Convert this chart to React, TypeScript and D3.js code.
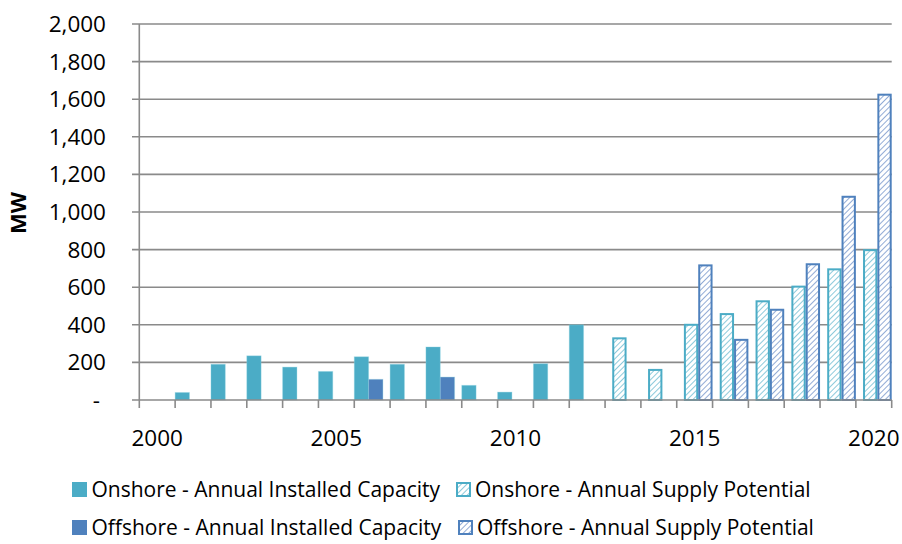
import React from "react";
import * as d3 from "d3";

const years = d3.range(2000, 2021);
const onshoreInstalled: (number | null)[] = [null, 40, 190, 235, 175, 152, 230, 190, 282, 78, 42, 193, 400, null, null, null, null, null, null, null, null];
const onshorePotential: (number | null)[] = [null, null, null, null, null, null, null, null, null, null, null, null, null, 328, 160, 400, 457, 525, 603, 695, 797];
const offshoreInstalled: (number | null)[] = [null, null, null, null, null, null, 110, null, 122, null, null, null, null, null, null, null, null, null, null, null, null];
const offshorePotential: (number | null)[] = [null, null, null, null, null, null, null, null, null, null, null, null, null, null, null, 716, 320, 480, 722, 1081, 1624];
const yTicks = [0, 200, 400, 600, 800, 1000, 1200, 1400, 1600, 1800, 2000];
const xLabelYears = [2000, 2005, 2010, 2015, 2020];

const ON = "#4BACC6";
const OFF = "#4F81BD";

const W = 902, H = 544;
const left = 139.3, right = 891.7, top = 24, bottom = 400;
const FONT = "'Open Sans', 'Noto Sans', sans-serif";

export default function App() {
  const x = d3.scaleBand<number>().domain(years).range([left, right]).paddingInner(0).paddingOuter(0);
  const y = d3.scaleLinear().domain([0, 2000]).range([bottom, top]);
  const bw = x.bandwidth();
  const w = bw / 2.5;
  const step = w / 2;
  const fmt = d3.format(",");

  const series = [
    { data: onshoreInstalled, idx: 0, kind: "solid", color: ON },
    { data: onshorePotential, idx: 1, kind: "hatch", color: ON, pat: "hOn" },
    { data: offshoreInstalled, idx: 2, kind: "solid", color: OFF },
    { data: offshorePotential, idx: 3, kind: "hatch", color: OFF, pat: "hOff" },
  ];

  const boundaries = d3.range(0, years.length + 1).map((i) => left + i * bw);

  return (
    <svg width={W} height={H} style={{ display: "block", position: "absolute", left: 0, top: 0 }}>
      <defs>
        <pattern id="hOn" width="4" height="4" patternUnits="userSpaceOnUse" patternTransform="rotate(45)">
          <rect width="4" height="4" fill="#ffffff" />
          <line x1="0" y1="0" x2="0" y2="4" stroke="#8dcadb" strokeWidth="2" />
        </pattern>
        <pattern id="hOff" width="4" height="4" patternUnits="userSpaceOnUse" patternTransform="rotate(45)">
          <rect width="4" height="4" fill="#ffffff" />
          <line x1="0" y1="0" x2="0" y2="4" stroke="#93acd6" strokeWidth="2" />
        </pattern>
      </defs>
      <rect width={W} height={H} fill="#fff" />
      {yTicks.filter((t) => t > 0).map((t) => (
        <line key={t} x1={132} x2={right} y1={y(t)} y2={y(t)} stroke="#8a8a8a" strokeWidth={1.6} />
      ))}
      {series.map((s) =>
        s.data.map((v, i) => {
          if (v == null) return null;
          const x0 = (x(years[i]) as number) + s.idx * step;
          if (s.kind === "solid") {
            return (
              <rect key={`${s.idx}-${i}`} x={x0} y={y(v)} width={w} height={y(0) - y(v)} fill={s.color} stroke="#8fd3e2" strokeOpacity={0.35} strokeWidth={1} />
            );
          }
          return (
            <rect key={`${s.idx}-${i}`} x={x0 + 1} y={y(v)} width={w - 2} height={y(0) - y(v)} fill={`url(#${s.pat})`} stroke={s.color} strokeWidth={2} />
          );
        })
      )}
      <line x1={left} x2={left} y1={top} y2={bottom} stroke="#8a8a8a" strokeWidth={1.6} />
      <line x1={132} x2={right} y1={bottom} y2={bottom} stroke="#8a8a8a" strokeWidth={1.6} />
      {boundaries.map((bx, i) => (
        <line key={i} x1={bx} x2={bx} y1={bottom} y2={408} stroke="#8a8a8a" strokeWidth={1.6} />
      ))}
      {yTicks.map((t) => (
        <text key={t} x={t === 0 ? 100 : 106} y={y(t) + 8} textAnchor="end" fontFamily={FONT} fontSize={22.5} fill="#000">
          {t === 0 ? "-" : fmt(t)}
        </text>
      ))}
      {xLabelYears.map((yr) => (
        <text key={yr} x={(x(yr) as number) + bw / 2} y={446} textAnchor="middle" fontFamily={FONT} fontSize={22.5} fill="#000">
          {yr}
        </text>
      ))}
      <text transform="translate(26,213) rotate(-90)" textAnchor="middle" fontFamily={FONT} fontWeight="bold" fontSize={22} fill="#000">MW</text>
      <g fontFamily={FONT} fontSize={21} fill="#000">
        <rect x={72} y={482} width={15} height={15} fill={ON} />
        <text x={91.5} y={497}>Onshore - Annual Installed Capacity</text>
        <rect x={457} y={483} width={13} height={13} fill="url(#hOn)" stroke={ON} strokeWidth={2} />
        <text x={475} y={497}>Onshore - Annual Supply Potential</text>
        <rect x={72} y={520} width={15} height={15} fill={OFF} />
        <text x={91.5} y={535}>Offshore - Annual Installed Capacity</text>
        <rect x={459} y={521} width={13} height={13} fill="url(#hOff)" stroke={OFF} strokeWidth={2} />
        <text x={477} y={535}>Offshore - Annual Supply Potential</text>
      </g>
    </svg>
  );
}
